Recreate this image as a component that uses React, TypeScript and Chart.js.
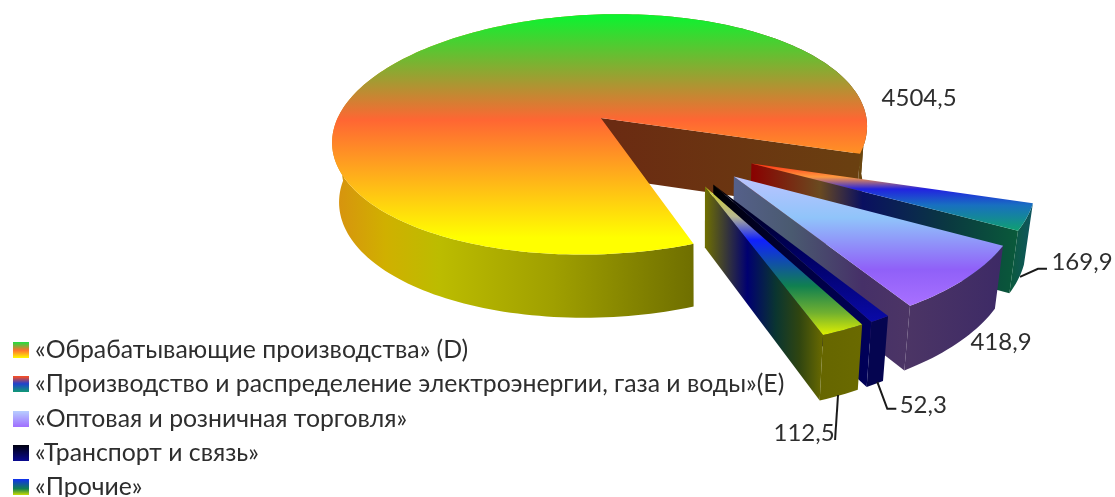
import React, { useEffect, useRef } from "react";
import { Chart, registerables } from "chart.js";

Chart.register(...registerables);

const categories = [
  "«Обрабатывающие производства» (D)",
  "«Производство и распределение электроэнергии, газа и воды»(E)",
  "«Оптовая и розничная торговля»",
  "«Транспорт и связь»",
  "«Прочие»",
];
const values = [4504.5, 169.9, 418.9, 52.3, 112.5];

type Stops = [number, string][];
const topStops: Stops[] = [
  [[0, "#08F530"], [0.44, "#FF6633"], [0.93, "#FFFF00"], [1, "#FFFF00"]],
  [[0, "#FF2A10"], [0.2, "#FF9A40"], [0.38, "#2222E0"], [0.62, "#1870C0"], [1, "#10A070"]],
  [[0, "#BCC4FF"], [0.32, "#90C4FA"], [0.72, "#9060F8"], [1, "#A870FF"]],
  [[0, "#000000"], [0.5, "#000060"], [1, "#0A0AA8"]],
  [[0, "#D0D020"], [0.2, "#B8B890"], [0.36, "#1020FF"], [0.67, "#108050"], [0.85, "#70B030"], [1, "#E0F000"]],
];
const wallStops: Stops[] = [
  [[0, "#6B2A12"], [1, "#6A4010"]],
  [[0, "#8A0000"], [0.26, "#6A4A20"], [0.42, "#0A1060"], [0.75, "#0A3A40"], [1, "#0A5A3A"]],
  [[0, "#55608A"], [0.33, "#4A5A70"], [0.73, "#463068"], [1, "#4C3565"]],
  [[0, "#000000"], [0.5, "#00003C"], [1, "#00005A"]],
  [[0, "#707000"], [0.36, "#000070"], [0.6, "#0A3530"], [0.8, "#304510"], [1, "#6A6A00"]],
];
const rimStops: Stops[] = [
  [[0, "#D89010"], [0.1, "#D0B000"], [0.2, "#BCBC00"], [0.41, "#A0A000"], [0.68, "#6E6E00"], [1, "#6A4510"]],
  [[0, "#0B5A3C"], [1, "#0F5560"]],
  [[0, "#4C3565"], [1, "#3D2A66"]],
  [[0, "#050550"], [1, "#050550"]],
  [[0, "#666600"], [1, "#6A6A00"]],
];
const swatchStops: Stops[] = [
  [[0, "#20E040"], [0.5, "#FF7030"], [1, "#FFFF00"]],
  [[0, "#FF5020"], [0.45, "#2040D0"], [1, "#10A070"]],
  [[0, "#B8D0FF"], [1, "#A070FF"]],
  [[0, "#000010"], [1, "#0A0A90"]],
  [[0, "#1030F0"], [0.6, "#108050"], [1, "#D0E000"]],
];

// label offset from the slice's end corner, followed by leader-line offsets from the same corner
const labelOffsets: [number, number][] = [[59, -55], [64, 31], [91, 37], [52, 83], [-19, 98]];
const leaders: [number, number][][] = [
  [],
  [[2, 46], [20, 38], [29, 38]],
  [],
  [[6, 60], [16, 87], [25, 87]],
  [[15, 60], [12, 105]],
];
const sliceOffsets = [384, 364, 364, 364, 364];

const FONT = "Lato, 'Noto Sans', sans-serif";
const VIEW = { x: 667, y: 147, squash: 0.46, focal: 1950, tilt: 0.015 };
const DEPTH = { vanishX: 700, scaleLeft: 0.981, scaleRight: 0.973, base: 59, growth: 0.03, refY: 117 };

type Pt = { x: number; y: number };
const project = (fx: number, fy: number): Pt => {
  const k = 1 / (1 - fy / VIEW.focal);
  const sx = fx * k;
  return { x: VIEW.x + sx, y: VIEW.y + VIEW.squash * fy * k - sx * VIEW.tilt };
};
const lower = (p: Pt): Pt => ({
  x: DEPTH.vanishX + (p.x - DEPTH.vanishX) * (p.x < DEPTH.vanishX ? DEPTH.scaleLeft : DEPTH.scaleRight),
  y: p.y + DEPTH.base + (p.y - DEPTH.refY) * DEPTH.growth,
});

function paint(ctx: CanvasRenderingContext2D, bounds: Pt[], stops: Stops, vertical: boolean) {
  const xs = bounds.map((p) => p.x);
  const ys = bounds.map((p) => p.y);
  const g = vertical
    ? ctx.createLinearGradient(0, Math.min(...ys), 0, Math.max(...ys))
    : ctx.createLinearGradient(Math.min(...xs), 0, Math.max(...xs), 0);
  stops.forEach(([o, c]) => g.addColorStop(o, c));
  return g;
}
function trace(ctx: CanvasRenderingContext2D, pts: Pt[]) {
  ctx.beginPath();
  pts.forEach((p, i) => (i ? ctx.lineTo(p.x, p.y) : ctx.moveTo(p.x, p.y)));
  ctx.closePath();
  ctx.fill();
}
function fillPoly(ctx: CanvasRenderingContext2D, pts: Pt[], stops: Stops, vertical: boolean) {
  ctx.fillStyle = paint(ctx, pts, stops, vertical);
  trace(ctx, pts);
}

type Slice = { i: number; apex: Pt; rim: Pt[]; runs: Pt[][]; end: Pt; cy: number };

function buildSlices(chart: Chart): Slice[] {
  const arcs = chart.getDatasetMeta(0).data as any[];
  return arcs.map((arc, i) => {
    const { startAngle, endAngle, outerRadius } = arc.getProps(["startAngle", "endAngle", "outerRadius"]);
    const d = (arc.options.offset || 0) / 4;
    const mid = (startAngle + endAngle) / 2;
    const ox = Math.cos(mid) * d;
    const oy = Math.sin(mid) * d;
    const n = Math.max(6, Math.ceil((endAngle - startAngle) * 40));
    const rim: Pt[] = [];
    const runs: Pt[][] = [];
    let lastSign = 0;
    for (let j = 0; j <= n; j++) {
      const t = startAngle + ((endAngle - startAngle) * j) / n;
      const p = project(ox + Math.cos(t) * outerRadius, oy + Math.sin(t) * outerRadius);
      rim.push(p);
      const sign = Math.sin(t) >= 0 ? 1 : -1;
      if (sign !== lastSign) {
        if (runs.length) runs[runs.length - 1].push(p);
        runs.push([]);
        lastSign = sign;
      }
      runs[runs.length - 1].push(p);
    }
    return { i, apex: project(ox, oy), rim, runs, end: rim[rim.length - 1], cy: oy };
  });
}

const pie3d = {
  id: "pie3d",
  beforeDatasetsDraw(chart: Chart) {
    const ctx = chart.ctx;
    const slices = buildSlices(chart);
    [...slices]
      .sort((a, b) => a.cy - b.cy)
      .forEach((s) => {
        ctx.fillStyle = paint(ctx, [...s.rim, ...s.rim.map(lower)], rimStops[s.i], false);
        s.runs.forEach((run) => trace(ctx, [...run, ...run.map(lower).reverse()]));
        fillPoly(ctx, [s.apex, s.end, lower(s.end), lower(s.apex)], wallStops[s.i], false);
        fillPoly(ctx, [s.apex, ...s.rim], topStops[s.i], true);
      });
    ctx.save();
    ctx.fillStyle = "#2E2E2E";
    ctx.strokeStyle = "#1A1A1A";
    ctx.lineWidth = 2;
    ctx.font = `24px ${FONT}`;
    ctx.textAlign = "center";
    ctx.textBaseline = "middle";
    slices.forEach((s) => {
      const pts = leaders[s.i];
      if (pts.length) {
        ctx.beginPath();
        pts.forEach(([dx, dy], j) =>
          j ? ctx.lineTo(s.end.x + dx, s.end.y + dy) : ctx.moveTo(s.end.x + dx, s.end.y + dy)
        );
        ctx.stroke();
      }
      const [lx, ly] = labelOffsets[s.i];
      ctx.fillText(values[s.i].toFixed(1).replace(".", ","), s.end.x + lx, s.end.y + ly);
    });
    ctx.restore();
    return false;
  },
  afterLayout(chart: Chart) {
    const legend = chart.legend as any;
    legend.left = 10;
    legend.bottom = 509;
  },
};

function swatch(stops: Stops): HTMLCanvasElement {
  const c = document.createElement("canvas");
  c.width = 16;
  c.height = 16;
  const x = c.getContext("2d")!;
  const g = x.createLinearGradient(0, 0, 0, 16);
  stops.forEach(([o, col]) => g.addColorStop(o, col));
  x.fillStyle = g;
  x.fillRect(0, 0, 16, 16);
  return c;
}

export default function App() {
  const ref = useRef<HTMLCanvasElement>(null);
  useEffect(() => {
    const chart = new Chart(ref.current!, {
      type: "pie",
      data: {
        labels: categories,
        datasets: [{ data: values, offset: sliceOffsets, radius: 274, backgroundColor: swatchStops.map((s) => s[0][1]) }],
      },
      options: {
        animation: false,
        responsive: false,
        rotation: 160.3,
        layout: { padding: 0 },
        plugins: {
          tooltip: { enabled: false },
          legend: {
            position: "chartArea",
            align: "end",
            labels: {
              usePointStyle: true,
              pointStyleWidth: 3.2,
              boxHeight: 16,
              padding: 9.45,
              color: "#2E2E2E",
              font: { family: FONT, size: 24.8 },
              generateLabels: () =>
                categories.map((text, i) => ({
                  text,
                  index: i,
                  datasetIndex: 0,
                  fontColor: "#2E2E2E",
                  pointStyle: swatch(swatchStops[i]),
                  lineWidth: 0,
                  hidden: false,
                })),
            },
          } as any,
        },
      },
      plugins: [pie3d],
    });
    return () => chart.destroy();
  }, []);
  return (
    <canvas
      ref={ref}
      width={1115}
      height={497}
      style={{ position: "absolute", left: 0, top: 0, display: "block" }}
    />
  );
}
